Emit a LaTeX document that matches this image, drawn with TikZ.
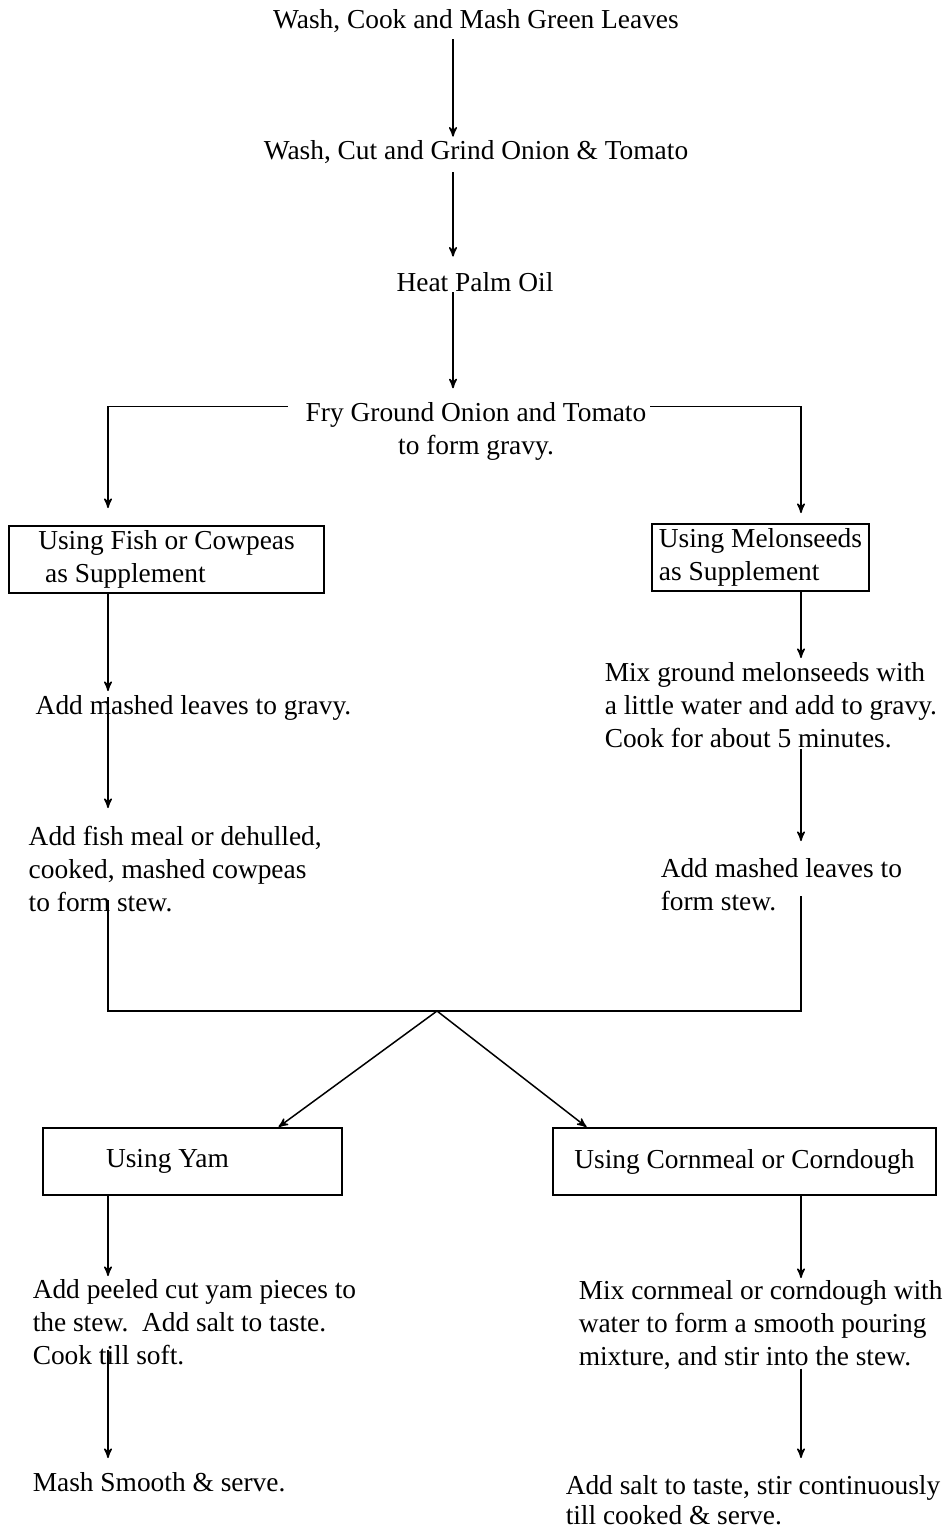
\documentclass[tikz,border=0pt]{standalone}
\usepackage{fontspec}
\setmainfont{Liberation Serif}
\usetikzlibrary{positioning,arrows}

\begin{document}
\begin{tikzpicture}[->,>=stealth',line width=0.75pt,x=0.5pt,y=-0.5pt,
                    font=\fontsize{13.7}{16.5}\selectfont]
  \tikzstyle{every node}=[inner sep=0pt]
  \tikzstyle{stage}=[align=left,anchor=north west]
  \tikzstyle{choice}=[draw,line width=1pt,anchor=north west,
                      minimum height=33.5pt,align=left]

  \useasboundingbox (0,0) rectangle (949,1528);
  \coordinate (spine) at (453,0);
  \coordinate (lcol)  at (108,0);
  \coordinate (rcol)  at (801,0);
  \coordinate (join)  at (437,1011);

  \node (wash) at (476,21)  {Wash, Cook and Mash Green Leaves};
  \node (cut)  at (476,152) {Wash, Cut and Grind Onion \& Tomato};
  \node (heat) at (475,282) {Heat Palm Oil};
  \node[align=center] (fry) at (476,431) {Fry Ground Onion and Tomato\\to form gravy.};

  \node[choice,minimum width=157.5pt] (fishbox)  at (8,525)
        {Using Fish or Cowpeas\\\ as Supplement};
  \node[choice,minimum width=108.5pt] (melonbox) at (651,523)
        {Using Melonseeds\\as Supplement};

  \node[stage] (addgravy)  at (35,695)  {Add mashed leaves to gravy.};
  \node[stage] (fishmeal)  at (28,825)  {Add fish meal or dehulled,\\cooked, mashed cowpeas\\to form stew.};
  \node[stage] (mixmelon)  at (604,662) {Mix ground melonseeds with\\a little water and add to gravy.\\Cook for about 5 minutes.};
  \node[stage] (addleaves) at (660,858) {Add mashed leaves to\\form stew.};

  \node[choice,minimum width=149.5pt] (yambox) at (42,1127)
        {\makebox[86.5pt][l]{Using Yam}};
  \node[choice,minimum width=191.5pt] (cornbox) at (552,1127)
        {Using Cornmeal or Corndough};

  \node[stage] (peeled)  at (32,1279)  {Add peeled cut yam pieces to\\the stew.\ \ Add salt to taste.\\Cook till soft.};
  \node[stage] (mash)    at (32,1472)  {Mash Smooth \& serve.};
  \node[stage] (mixcorn) at (578,1280) {Mix cornmeal or corndough with\\water to form a smooth pouring\\mixture, and stir into the stew.};
  \node[stage,font=\fontsize{13.7}{15}\selectfont] (salt) at (565,1475)
        {Add salt to taste, stir continuously\\till cooked \& serve.};

  % main line
  \draw[shorten <=3pt,shorten >=1.5pt] (wash.south -| spine) -- (cut.north -| spine);
  \draw[shorten <=4pt,shorten >=7.5pt] (cut.south -| spine) -- (heat.north -| spine);
  \draw[shorten >=6.5pt] (heat.south -| spine) -- (fry.north -| spine);
  \draw[shorten >=8.5pt] ([xshift=-8.5pt,yshift=-2.5pt]fry.north west) -| (fishbox.north -| lcol);
  \draw[shorten >=5pt] ([xshift=1.5pt,yshift=-2.5pt]fry.north east) -| (melonbox.north -| rcol);

  % fish or cowpeas
  \draw[shorten >=2pt] (fishbox.south -| lcol) -- (addgravy.north -| lcol);
  \draw[shorten <=1pt,shorten >=8.5pt] (addgravy.north -| lcol) -- (fishmeal.north -| lcol);

  % melonseeds
  \draw[shorten >=2pt] (melonbox.south -| rcol) -- (mixmelon.north -| rcol);
  \draw[shorten >=8.5pt] (mixmelon.south -| rcol) -- (addleaves.north -| rcol);

  % stew
  \draw[-] ([yshift=6pt]fishmeal.south -| lcol) -- (lcol |- join) -- (rcol |- join)
           -- ([yshift=8pt]addleaves.south -| rcol);
  \draw (join) -- ([xshift=43pt]yambox.north);
  \draw (join) -- ([xshift=-79pt]cornbox.north);

  % yam
  \draw[shorten >=1.5pt] (yambox.south -| lcol) -- (peeled.north -| lcol);
  \draw[shorten >=7pt] ([yshift=8pt]peeled.south -| lcol) -- (mash.north -| lcol);

  % cornmeal
  \draw[shorten >=1pt] (cornbox.south -| rcol) -- (mixcorn.north -| rcol);
  \draw[shorten >=8.5pt] ([yshift=1pt]mixcorn.south -| rcol) -- (salt.north -| rcol);
\end{tikzpicture}
\end{document}
